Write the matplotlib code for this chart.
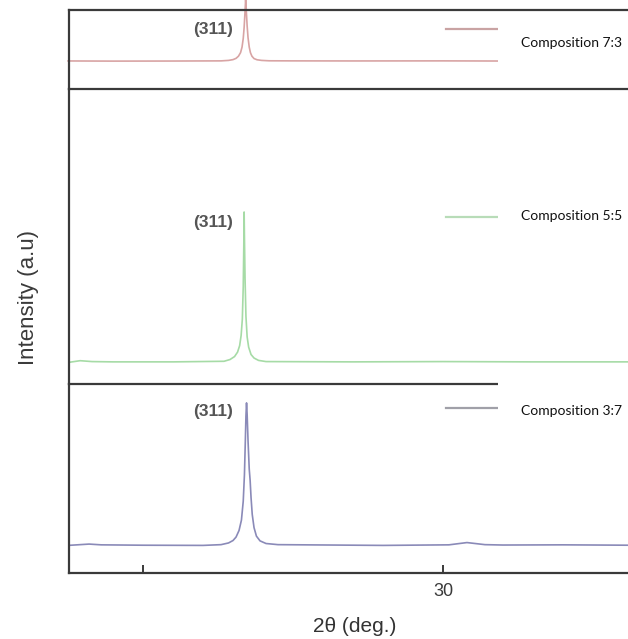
import matplotlib
matplotlib.use("Agg")
import matplotlib.pyplot as plt
from matplotlib.lines import Line2D
from matplotlib.patches import Rectangle

tt_73 = [17.5, 19.0, 21.0, 22.6, 22.85, 23.0, 23.1, 23.18, 23.25, 23.3, 23.34, 23.37,
         23.4, 23.42, 23.44, 23.47, 23.5, 23.54, 23.58, 23.63, 23.7, 23.8, 23.95,
         24.2, 25.0, 27.0, 30.0, 32.0, 34.0, 36.2]
int_73 = [35.5, 35.3, 35.4, 35.6, 36.2, 37.2, 38.8, 41.5, 46.0, 53.0, 64.0, 78.0,
          98.0, 113.0, 100.0, 80.0, 65.0, 53.0, 46.0, 41.5, 38.5, 37.0, 36.2,
          35.7, 35.6, 35.5, 35.6, 35.4, 35.5, 35.5]

tt_55 = [17.5, 17.9, 18.3, 19.0, 21.0, 22.7, 22.9, 23.05, 23.15, 23.22, 23.27, 23.31,
         23.34, 23.36, 23.37, 23.38, 23.4, 23.43, 23.47, 23.52, 23.6, 23.7, 23.85,
         24.1, 27.0, 30.0, 33.0, 36.2]
int_55 = [7.3, 7.9, 7.6, 7.5, 7.5, 7.7, 8.3, 9.3, 10.8, 13.0, 16.5, 22.0,
          33.0, 48.0, 58.3, 50.0, 36.0, 23.0, 16.0, 12.5, 10.0, 8.8, 8.0,
          7.6, 7.5, 7.6, 7.5, 7.5]

tt_37 = [17.5, 18.2, 18.6, 20.0, 22.0, 22.6, 22.85, 23.0, 23.1, 23.2, 23.28, 23.34,
         23.38, 23.41, 23.43, 23.45, 23.47, 23.5, 23.54, 23.57, 23.6, 23.64, 23.7,
         23.78, 23.9, 24.1, 24.5, 28.0, 30.2, 30.8, 31.4, 32.0, 34.0, 36.2]
int_37 = [14.6, 15.3, 14.9, 14.7, 14.6, 15.0, 15.9, 17.2, 19.0, 22.5, 28.0, 38.0,
          52.0, 70.0, 83.0, 90.0, 84.0, 70.0, 55.0, 49.0, 40.0, 31.0, 24.0,
          19.5, 17.0, 15.6, 15.0, 14.6, 14.9, 16.1, 15.0, 14.8, 14.9, 14.7]

names = ["Composition 7:3", "Composition 5:5", "Composition 3:7"]
colors = ["#d8a4a4", "#a6dba6", "#8a8ab8"]
key_colors = ["#c9a3a3", "#b8dcb8", "#a0a0a8"]
peak_pos = [23.0, 23.0, 23.0]
peak_lbl_y = [75.9, 54.9, 85.7]
hkl = "(311)"

W, H = 628, 639
fig = plt.figure(figsize=(W / 100, H / 100), dpi=100)

def fx(px):
    return px / W

def fy(py):
    return 1 - py / H

left = fx(69)
# panels: (top px, bottom px)
rows = [(10, 89), (89, 384), (384, 573)]
axes = []
for top, bot in rows:
    ax = fig.add_axes([left, fy(bot), 1 - left, (bot - top) / H])
    ax.patch.set_visible(False)
    ax.set_xlim(17.53, 36.17)
    ax.set_ylim(0, 100)
    ax.set_yticks([])
    for s in ax.spines.values():
        s.set_linewidth(1.6)
        s.set_color("#3a3a3a")
    ax.spines["right"].set_visible(False)
    axes.append(ax)

ax1, ax2, ax3 = axes
ax2.spines["top"].set_visible(False)
ax2.spines["bottom"].set_visible(False)
for ax in (ax1, ax2):
    ax.set_xticks([])

ax1.plot(tt_73, int_73, color=colors[0], lw=1.2, clip_on=False)
ax2.plot(tt_55, int_55, color=colors[1], lw=1.2)
ax3.plot(tt_37, int_37, color=colors[2], lw=1.2)

ax3.set_xticks([20, 30])
ax3.set_xticklabels(["", "30"])
ax3.tick_params(axis="x", direction="in", length=6, width=1.4, pad=7,
                labelsize=13, labelcolor="#3a3a3a", color="#3a3a3a")
for lab in ax3.get_xticklabels():
    lab.set_fontfamily("Liberation Sans")
ax3.set_xlabel("2θ (deg.)", fontsize=15, color="#333333", family="Liberation Sans")
ax3.xaxis.set_label_coords((355 - 69) / 559, (573 - 627) / 189)
ax3.xaxis.label.set_va("center")

fig.text(fx(28.5), fy(297), "Intensity (a.u)", rotation=90, ha="center", va="center",
         fontsize=16, color="#3a3a3a", family="Liberation Sans")

# legend keys, then the white text boxes pasted over them
key_y = [30, 218, 409]
text_y = [43, 216, 411]
box_rows = [(13, 86), (196, 240), (382, 440)]
for i, ax in enumerate(axes):
    h = Line2D([], [], color=key_colors[i], lw=1.6)
    ax.legend([h], [""], loc="center left",
              bbox_to_anchor=(fx(446), fy(key_y[i])), bbox_transform=fig.transFigure,
              frameon=False, borderpad=0, borderaxespad=0, handlelength=3.74,
              handletextpad=0, fontsize=10)
    b0, b1 = box_rows[i]
    ax.add_patch(Rectangle((fx(498), fy(b1)), 1 - fx(498), (b1 - b0) / H,
                           transform=fig.transFigure, facecolor="white",
                           edgecolor="none", zorder=6, clip_on=False))
    ax.text(fx(521), fy(text_y[i]), names[i], transform=fig.transFigure,
            ha="left", va="center", fontsize=10, family="Lato", color="#111111",
            zorder=7)
    ax.text(peak_pos[i], peak_lbl_y[i], hkl, ha="right", va="center",
            fontsize=12.5, fontweight="bold", color="#555555",
            family="Liberation Sans")

fig.savefig("out.png", dpi=100)
